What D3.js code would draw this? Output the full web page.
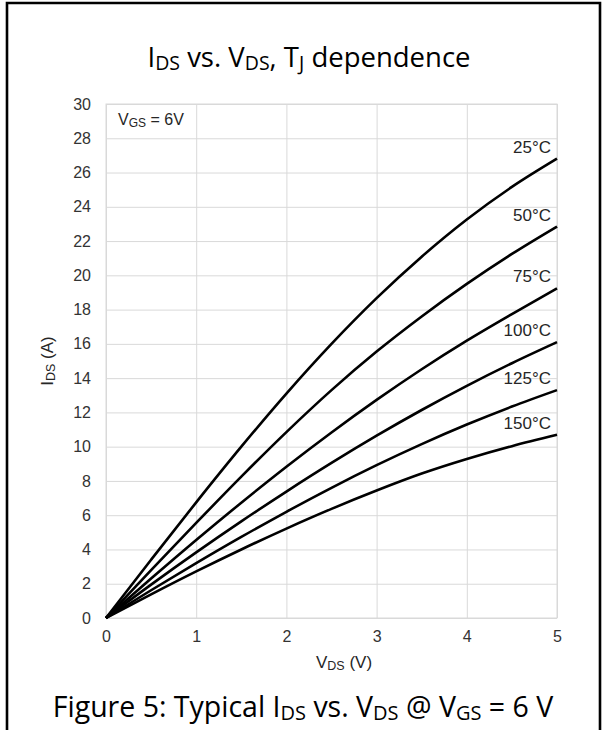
<!DOCTYPE html>
<html>
<head>
<meta charset="utf-8">
<script src="https://cdn.jsdelivr.net/npm/d3@7"></script>
<style>
  html, body { margin: 0; padding: 0; background: #fff; }
  svg { display: block; }
  .tick text { font-family: "Liberation Sans", Arial, sans-serif; font-size: 16px; fill: #333; }
  .grid line { stroke: #d9d9d9; stroke-width: 1; }
  .grid path { display: none; }
  .curve { fill: none; stroke: #000; stroke-width: 2.6; }
  .lbl { font-family: "Liberation Sans", Arial, sans-serif; fill: #262626; }
  .seg { font-family: "Open Sans", "Noto Sans", sans-serif; fill: #000; }
</style>
</head>
<body>
<svg id="chart" width="604" height="730"></svg>
<script>
'use strict';

// ─── Дані ─────────────────────────────────────────────────────────────────
const vds = [0, 0.5, 1, 1.5, 2, 2.5, 3, 3.5, 4, 4.5, 5];
const temps = ['25°C', '50°C', '75°C', '100°C', '125°C', '150°C'];
const i25  = [0, 3.4, 6.75, 10.0, 13.1, 16.0, 18.67, 21.09, 23.26, 25.16, 26.81];
const i50  = [0, 2.8, 5.55, 8.25, 10.85, 13.3, 15.55, 17.6, 19.5, 21.25, 22.85];
const i75  = [0, 2.3, 4.55, 6.73, 8.83, 10.83, 12.73, 14.52, 16.19, 17.74, 19.24];
const i100 = [0, 1.95, 3.83, 5.64, 7.38, 9.05, 10.64, 12.14, 13.55, 14.87, 16.1];
const i125 = [0, 1.62, 3.2, 4.73, 6.2, 7.6, 8.92, 10.15, 11.29, 12.34, 13.3];
const i150 = [0, 1.38, 2.72, 4.0, 5.22, 6.37, 7.44, 8.43, 9.28, 10.03, 10.69];
const series = [i25, i50, i75, i100, i125, i150];
const xTicks = [0, 1, 2, 3, 4, 5];
const yTicks = d3.range(0, 31, 2);

// ─── Розмітка ─────────────────────────────────────────────────────────────
const svg = d3.select('#chart');
const X0 = 106, X1 = 557, Y0 = 618, Y1 = 104;

const x = d3.scaleLinear().domain([0, 5]).range([X0, X1]);
const y = d3.scaleLinear().domain([0, 30]).range([Y0, Y1]);

// Рамка рисунка
svg.append('path')
  .attr('d', `M7,740 V3 H600 V740`)
  .attr('fill', 'none').attr('stroke', '#000').attr('stroke-width', 2.6);

// Сітка
svg.append('g').attr('class', 'grid').attr('transform', `translate(0,${Y0})`)
  .call(d3.axisBottom(x).tickValues(xTicks).tickSize(-(Y0 - Y1)).tickFormat(''));
svg.append('g').attr('class', 'grid').attr('transform', `translate(${X0},0)`)
  .call(d3.axisLeft(y).tickValues(yTicks).tickSize(-(X1 - X0)).tickFormat(''));
svg.append('rect').attr('x', X0).attr('y', Y1).attr('width', X1 - X0).attr('height', Y0 - Y1)
  .attr('fill', 'none').attr('stroke', '#d9d9d9');

// Осі (лише підписи)
const ax = svg.append('g').attr('transform', `translate(0,${Y0})`)
  .call(d3.axisBottom(x).tickValues(xTicks).tickSize(0).tickPadding(13).tickFormat(d3.format('d')));
ax.select('.domain').remove();
const ay = svg.append('g').attr('transform', `translate(${X0},0)`)
  .call(d3.axisLeft(y).tickValues(yTicks).tickSize(0).tickPadding(15));
ay.select('.domain').remove();

// Криві
const line = d3.line()
  .x((d, i) => x(vds[i])).y(d => y(d))
  .curve(d3.curveMonotoneX);

series.forEach((s, k) => {
  svg.append('path').datum(s).attr('class', 'curve').attr('d', line);
  svg.append('text').attr('class', 'lbl').attr('text-anchor', 'end')
    .style('font-size', '17px')
    .attr('x', x(5) - 6).attr('y', y(s[s.length - 1]) - 6)
    .text(temps[k]);
});

// Текст з підрядковими індексами
function richText(parent, parts, attrs, size, subSize) {
  const t = parent.append('text');
  Object.entries(attrs).forEach(([k, v]) => t.attr(k, v));
  t.style('font-size', size + 'px');
  const shift = size * 0.12;
  parts.forEach(([txt, sub], i) => {
    const sp = t.append('tspan').text(txt);
    if (sub) sp.style('font-size', subSize + 'px').attr('dy', shift);
    else if (i > 0 && parts[i - 1][1]) sp.attr('dy', -shift);
  });
  return t;
}

// Заголовок
richText(svg, [['I'], ['DS', 1], [' vs. V'], ['DS', 1], [', T'], ['J', 1], [' dependence']],
  { x: 309, y: 67, 'text-anchor': 'middle', class: 'seg' }, 27.5, 19.5);

// Підпис рисунка
richText(svg, [['Figure 5: Typical I'], ['DS', 1], [' vs. V'], ['DS', 1], [' @ V'], ['GS', 1], [' = 6 V']],
  { x: 303, y: 717, 'text-anchor': 'middle', class: 'seg' }, 28.5, 20);

// Підписи осей
richText(svg, [['V'], ['DS', 1], [' (V)']],
  { x: 344, y: 668, 'text-anchor': 'middle', class: 'lbl' }, 17, 12.5);
richText(svg, [['I'], ['DS', 1], [' (A)']],
  { transform: `translate(53,${(Y0 + Y1) / 2}) rotate(-90)`, 'text-anchor': 'middle', class: 'lbl' }, 17, 12.5);

// V_GS
richText(svg, [['V'], ['GS', 1], [' = 6V']],
  { x: 118, y: 125, class: 'lbl' }, 16, 12);
</script>
</body>
</html>
